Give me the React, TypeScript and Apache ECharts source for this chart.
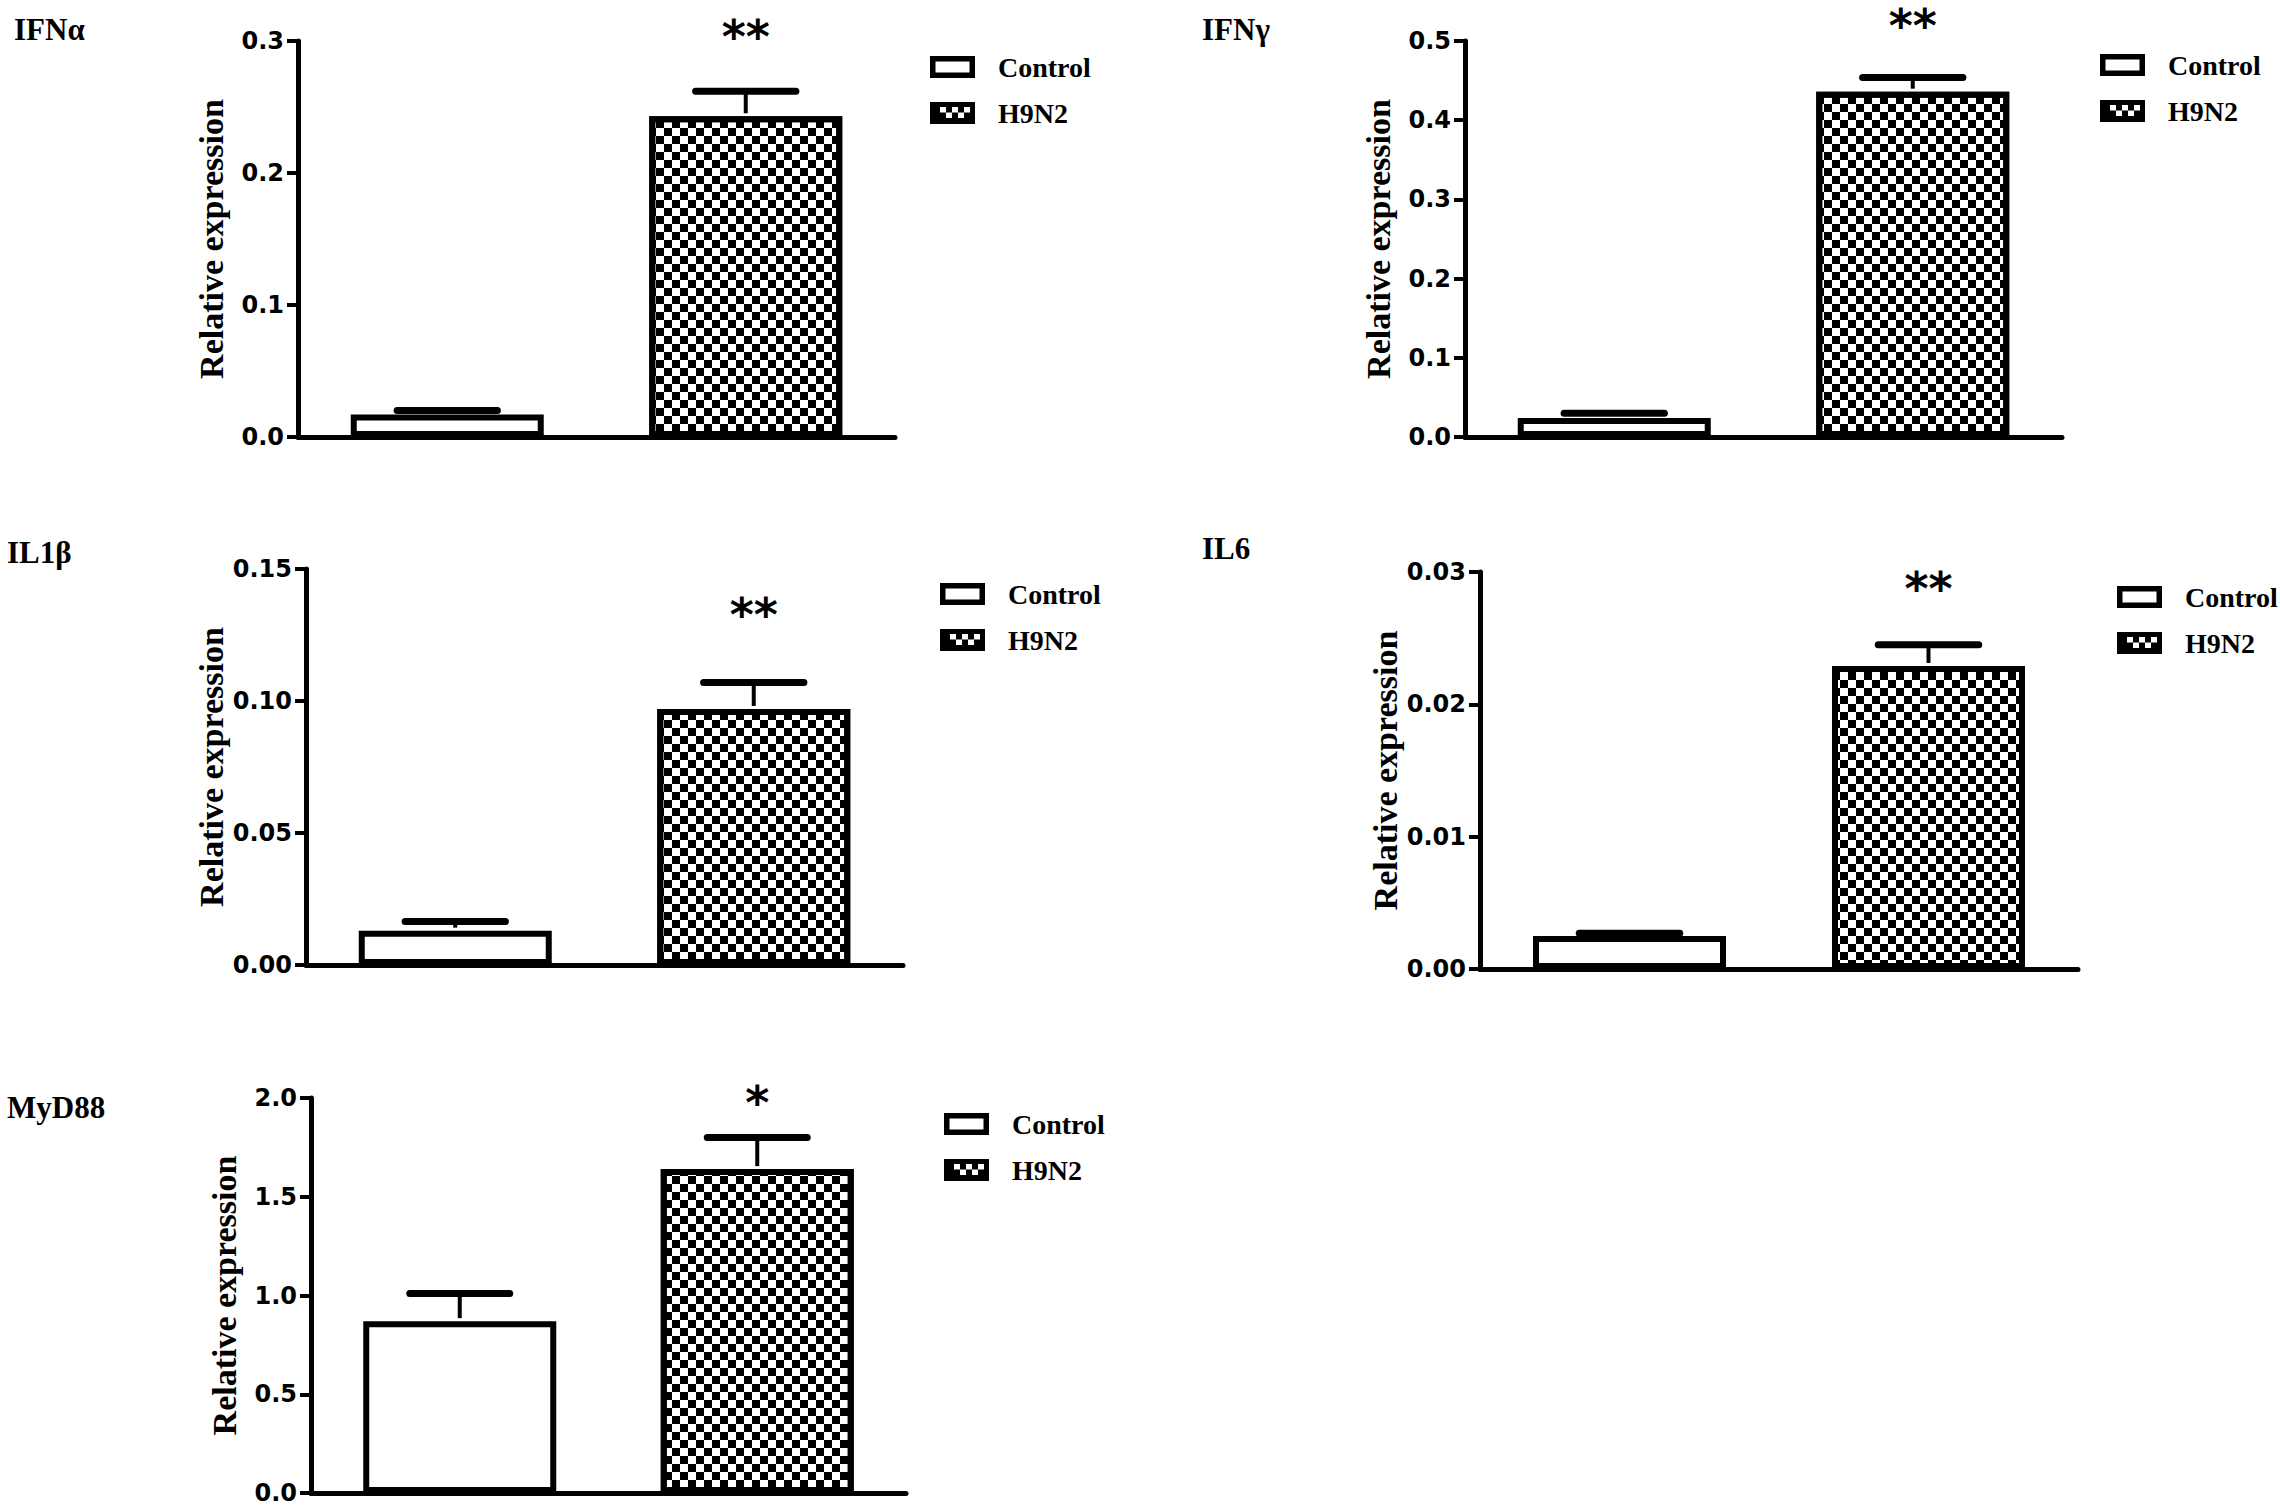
import React, { useEffect, useRef } from "react";
import * as echarts from "echarts";

// ---- data ----
const genes = ["IFNα", "IFNγ", "IL1β", "IL6", "MyD88"];
const groups = ["Control", "H9N2"];
const controlMean = [0.017, 0.024, 0.013, 0.0025, 0.87];
const controlErr = [0.003, 0.006, 0.0035, 0.0002, 0.14];
const h9n2Mean = [0.243, 0.436, 0.097, 0.0229, 1.64];
const h9n2Err = [0.019, 0.018, 0.0100, 0.0016, 0.16];
const yMax = [0.3, 0.5, 0.15, 0.03, 2.0];
const yInterval = [0.1, 0.1, 0.05, 0.01, 0.5];
const yDecimals = [1, 1, 2, 2, 1];
const significance = ["**", "**", "**", "**", "*"];
const yAxisTitle = "Relative expression";

// ---- layout (pixels) ----
const gridLayout = [
  { left: 298, top: 41, width: 597, height: 396 },
  { left: 1465, top: 41, width: 597, height: 396 },
  { left: 306, top: 569, width: 597, height: 396 },
  { left: 1480, top: 572, width: 598, height: 397 },
  { left: 311, top: 1098, width: 595, height: 395 },
];
const geneLabelPos = [
  { x: 14, y: 29 },
  { x: 1202, y: 29 },
  { x: 7, y: 552 },
  { x: 1202, y: 548 },
  { x: 7, y: 1107 },
];
const sigY = [28, 17, 606, 580, 1094];
const legendPos = [
  { left: 930, top: 53 },
  { left: 2100, top: 51 },
  { left: 940, top: 580 },
  { left: 2117, top: 583 },
  { left: 944, top: 1110 },
];

const SERIF = "'Liberation Serif', 'Times New Roman', serif";
const SANS = "'DejaVu Sans', 'Liberation Sans', Arial, sans-serif";

// legend icons: frame (holes made with opposite winding)
const ICON_CONTROL = "path://M0 0H45V22H0Z M5.5 5.5V16.5H39.5V5.5Z";
const ICON_H9N2 =
  "path://M0 0H45V22H0Z" +
  " M10 5V10.5H16V5Z M22 5V10.5H28V5Z M34 5V10.5H40V5Z" +
  " M16 10.5V16H22V10.5Z M28 10.5V16H34V10.5Z";

const checker = {
  symbol: "rect",
  symbolSize: 1,
  color: "#000",
  backgroundColor: "#fff",
  dashArrayX: [
    [8, 8],
    [0, 8, 8, 0],
  ],
  dashArrayY: [8, 0],
  rotation: 0,
};

function buildOption() {
  const grid: any[] = [];
  const xAxis: any[] = [];
  const yAxis: any[] = [];
  const series: any[] = [];
  const legend: any[] = [];
  const graphic: any[] = [];

  genes.forEach((gene, i) => {
    const g = gridLayout[i];
    grid.push({ left: g.left, top: g.top, width: g.width, height: g.height, containLabel: false });
    xAxis.push({
      type: "category",
      gridIndex: i,
      data: groups,
      axisLine: { show: true, lineStyle: { color: "#000", width: 5 } },
      axisTick: { show: false },
      axisLabel: { show: false },
      splitLine: { show: false },
    });
    yAxis.push({
      type: "value",
      gridIndex: i,
      min: 0,
      max: yMax[i],
      interval: yInterval[i],
      name: yAxisTitle,
      nameLocation: "middle",
      nameRotate: 90,
      nameGap: 70,
      nameTextStyle: { fontFamily: SERIF, fontWeight: "bold", fontSize: 34, color: "#000" },
      axisLine: { show: true, lineStyle: { color: "#000", width: 5 } },
      axisTick: { show: true, inside: false, length: 11, lineStyle: { color: "#000", width: 4 } },
      axisLabel: {
        margin: 14,
        fontFamily: SANS,
        fontWeight: "bold",
        fontSize: 24,
        color: "#000",
        formatter: (v: number) => v.toFixed(yDecimals[i]),
      },
      splitLine: { show: false },
    });
    series.push({
      name: groups[0],
      type: "bar",
      xAxisIndex: i,
      yAxisIndex: i,
      barWidth: 193,
      barGap: "-100%",
      data: [controlMean[i], "-"],
      itemStyle: { color: "#fff", borderColor: "#000", borderWidth: 6 },
      z: 2,
    });
    series.push({
      name: groups[1],
      type: "bar",
      xAxisIndex: i,
      yAxisIndex: i,
      barWidth: 193,
      barGap: "-100%",
      data: ["-", h9n2Mean[i]],
      itemStyle: { color: "#fff", borderColor: "#000", borderWidth: 6, decal: checker },
      z: 2,
    });
    series.push({
      name: "err" + i,
      type: "custom",
      xAxisIndex: i,
      yAxisIndex: i,
      clip: false,
      z: 4,
      data: [
        [0, controlMean[i], controlErr[i]],
        [1, h9n2Mean[i], h9n2Err[i]],
      ],
      encode: { x: 0, y: 1 },
      renderItem: (params: any, api: any) => {
        const x = api.value(0);
        const m = api.value(1);
        const e = api.value(2);
        const base = api.coord([x, m]);
        const top = api.coord([x, m + e]);
        const half = api.size([1, 0])[0] * 0.168;
        return {
          type: "group",
          children: [
            {
              type: "line",
              shape: { x1: base[0], y1: base[1] - 3, x2: top[0], y2: top[1] },
              style: { stroke: "#000", lineWidth: 4 },
            },
            {
              type: "line",
              shape: { x1: top[0] - half, y1: top[1], x2: top[0] + half, y2: top[1] },
              style: { stroke: "#000", lineWidth: 7, lineCap: "round" },
            },
          ],
        };
      },
    });
    legend.push({
      orient: "vertical",
      left: legendPos[i].left,
      top: legendPos[i].top,
      padding: 0,
      itemWidth: 45,
      itemHeight: 22,
      itemGap: 18,
      selectedMode: false,
      textStyle: { fontFamily: SERIF, fontWeight: "bold", fontSize: 28, color: "#000", padding: [0, 0, 0, 18] },
      data: [
        { name: groups[0], icon: ICON_CONTROL, itemStyle: { color: "#000", borderWidth: 0 } },
        { name: groups[1], icon: ICON_H9N2, itemStyle: { color: "#000", borderWidth: 0, decal: "none" } },
      ],
    });
    graphic.push({
      type: "text",
      x: geneLabelPos[i].x,
      y: geneLabelPos[i].y,
      style: {
        text: gene,
        fontFamily: SERIF,
        fontWeight: "bold",
        fontSize: 31,
        fill: "#000",
        textAlign: "left",
        textVerticalAlign: "middle",
        align: "left",
        verticalAlign: "middle",
      },
    });
    graphic.push({
      type: "text",
      x: g.left + g.width * 0.75,
      y: sigY[i] + 9,
      style: {
        text: significance[i],
        fontFamily: SANS,
        fontWeight: "bold",
        fontSize: 46,
        fill: "#000",
        textAlign: "center",
        textVerticalAlign: "middle",
        align: "center",
        verticalAlign: "middle",
      },
    });
  });

  return {
    animation: false,
    backgroundColor: "#fff",
    grid,
    xAxis,
    yAxis,
    series,
    legend,
    graphic,
  };
}

export default function App() {
  const ref = useRef<HTMLDivElement>(null);
  useEffect(() => {
    if (!ref.current) return;
    const chart = echarts.init(ref.current, null, { renderer: "svg" });
    chart.setOption(buildOption() as any);
    return () => chart.dispose();
  }, []);
  return (
    <div
      ref={ref}
      style={{ position: "fixed", left: 0, top: 0, width: 2280, height: 1512, background: "#fff" }}
    />
  );
}
